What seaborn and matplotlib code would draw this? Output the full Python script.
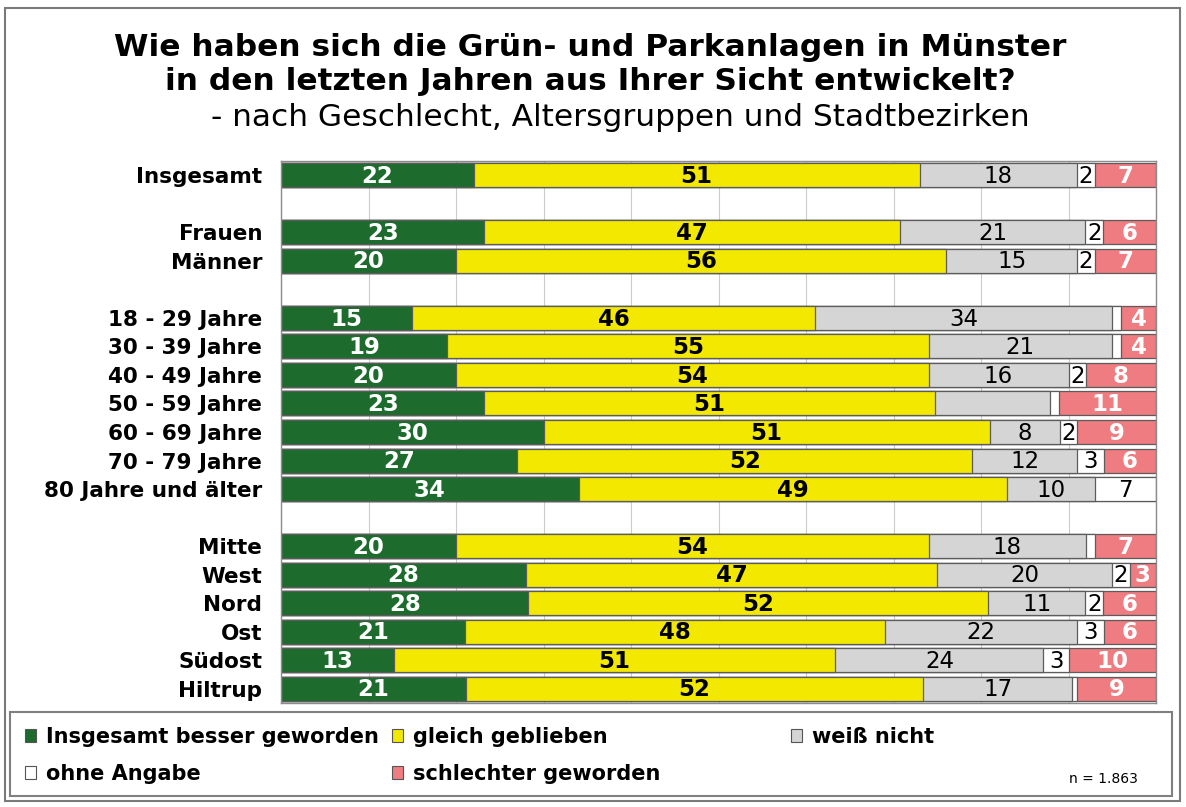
import numpy as np
import pandas as pd
import seaborn as sns
import matplotlib.pyplot as plt
from matplotlib.patches import Patch, Rectangle

GROUPS = [
    "Insgesamt", "Frauen", "Männer",
    "18 - 29 Jahre", "30 - 39 Jahre", "40 - 49 Jahre", "50 - 59 Jahre",
    "60 - 69 Jahre", "70 - 79 Jahre", "80 Jahre und älter",
    "Mitte", "West", "Nord", "Ost", "Südost", "Hiltrup",
]
# blank entries give the empty rows between the blocks
ROW_ORDER = [
    "Insgesamt", " ", "Frauen", "Männer", "  ",
    "18 - 29 Jahre", "30 - 39 Jahre", "40 - 49 Jahre", "50 - 59 Jahre",
    "60 - 69 Jahre", "70 - 79 Jahre", "80 Jahre und älter", "   ",
    "Mitte", "West", "Nord", "Ost", "Südost", "Hiltrup",
]
SERIES = ["Insgesamt besser geworden", "gleich geblieben", "weiß nicht",
          "ohne Angabe", "schlechter geworden"]

BESSER = [22, 23, 20, 15, 19, 20, 23, 30, 27, 34, 20, 28, 28, 21, 13, 21]
GLEICH = [51, 47, 56, 46, 55, 54, 51, 51, 52, 49, 54, 47, 52, 48, 51, 52]
WEISS = [18, 21, 15, 34, 21, 16, 13, 8, 12, 10, 18, 20, 11, 22, 24, 17]
OHNE = [2, 2, 2, 1, 1, 2, 1, 2, 3, 7, 1, 2, 2, 3, 3, 0.5]
SCHLECHTER = [7, 6, 7, 4, 4, 8, 11, 9, 6, 0, 7, 3, 6, 6, 10, 9]

COLORS = ["#1d6b2d", "#f3e800", "#d5d5d5", "#ffffff", "#ee7c80"]
LABEL_COLORS = ["white", "black", "black", "black", "white"]
LABEL_WEIGHTS = ["bold", "bold", "normal", "normal", "bold"]
# segments printed without a number in the original
HIDDEN = {("50 - 59 Jahre", "weiß nicht")}

W, H = 1186, 807


def main():
    df = pd.DataFrame({"group": GROUPS})
    for name, vals in zip(SERIES, [BESSER, GLEICH, WEISS, OHNE, SCHLECHTER]):
        df[name] = vals
    vals = df[SERIES]
    # rows are shares of 100 %, rounding makes some sum to 99 / 101
    share = vals.div(vals.sum(axis=1), axis=0) * 100
    cum = share.cumsum(axis=1)
    cum["group"] = GROUPS

    fig = plt.figure(figsize=(W / 100, H / 100), dpi=100)
    ax = fig.add_axes([281 / W, 1 - 703 / H, (1156 - 281) / W, (703 - 161) / H])

    # stacked bars: draw cumulative totals back to front
    for i in reversed(range(len(SERIES))):
        sns.barplot(
            data=cum, x=SERIES[i], y="group", order=ROW_ORDER, orient="h",
            color=COLORS[i], saturation=1, width=0.84, errorbar=None,
            edgecolor="#5c5c5c", linewidth=0.9, ax=ax,
        )

    for r, g in enumerate(GROUPS):
        y = ROW_ORDER.index(g)
        for j, s in enumerate(SERIES):
            v = vals.loc[r, s]
            if v < 2 or (g, s) in HIDDEN:
                continue
            xc = cum.loc[r, s] - share.loc[r, s] / 2
            ax.text(xc, y + 0.04, f"{v:g}", ha="center", va="center",
                    fontsize=16.5, color=LABEL_COLORS[j],
                    fontweight=LABEL_WEIGHTS[j])

    ax.set_xlim(0, 100)
    ax.set_xticks(np.arange(0, 101, 10))
    ax.set_xticklabels([])
    ax.grid(axis="x", color="#cccccc", linewidth=0.8)
    ax.set_axisbelow(True)
    ax.tick_params(length=0)
    ax.tick_params(axis="y", pad=13.5, labelsize=15.5)
    for lab in ax.get_yticklabels():
        lab.set_fontweight("bold")
    ax.set_xlabel("")
    ax.set_ylabel("")
    for sp in ax.spines.values():
        sp.set_color("#8c8c8c")
        sp.set_linewidth(1.0)

    # titles
    fig.text(590 / W, 1 - 47 / H, "Wie haben sich die Grün- und Parkanlagen in Münster",
             ha="center", va="center", fontsize=22.5, fontweight="bold")
    fig.text(590 / W, 1 - 81 / H, "in den letzten Jahren aus Ihrer Sicht entwickelt?",
             ha="center", va="center", fontsize=22.5, fontweight="bold")
    fig.text(620 / W, 1 - 117 / H, "- nach Geschlecht, Altersgruppen und Stadtbezirken",
             ha="center", va="center", fontsize=22.5)

    # legend laid out in three columns like the original
    handles = [Patch(facecolor=c, edgecolor="#555555", linewidth=0.8) for c in COLORS]
    cols = [([0, 3], 25), ([1, 4], 392), ([2], 791)]
    for idx, x0 in cols:
        fig.legend([handles[k] for k in idx], [SERIES[k] for k in idx],
                   loc="upper left", bbox_to_anchor=(x0 / W, 1 - 727 / H),
                   frameon=False, handlelength=0.55, handleheight=0.55,
                   handletextpad=0.45, labelspacing=0.8, borderpad=0,
                   borderaxespad=0, prop={"weight": "bold", "size": 15})
    fig.text(1138 / W, 1 - 779 / H, "n = 1.863", ha="right", va="center", fontsize=10)

    fig.add_artist(Rectangle((10 / W, 1 - 796 / H), 1162 / W, 84 / H,
                             transform=fig.transFigure, fill=False,
                             edgecolor="#808080", linewidth=1.5))
    fig.add_artist(Rectangle((5 / W, 1 - 801 / H), 1175 / W, 793 / H,
                             transform=fig.transFigure, fill=False,
                             edgecolor="#7a7a7a", linewidth=1.5))

    fig.savefig("out.png", dpi=100)


if __name__ == "__main__":
    main()
